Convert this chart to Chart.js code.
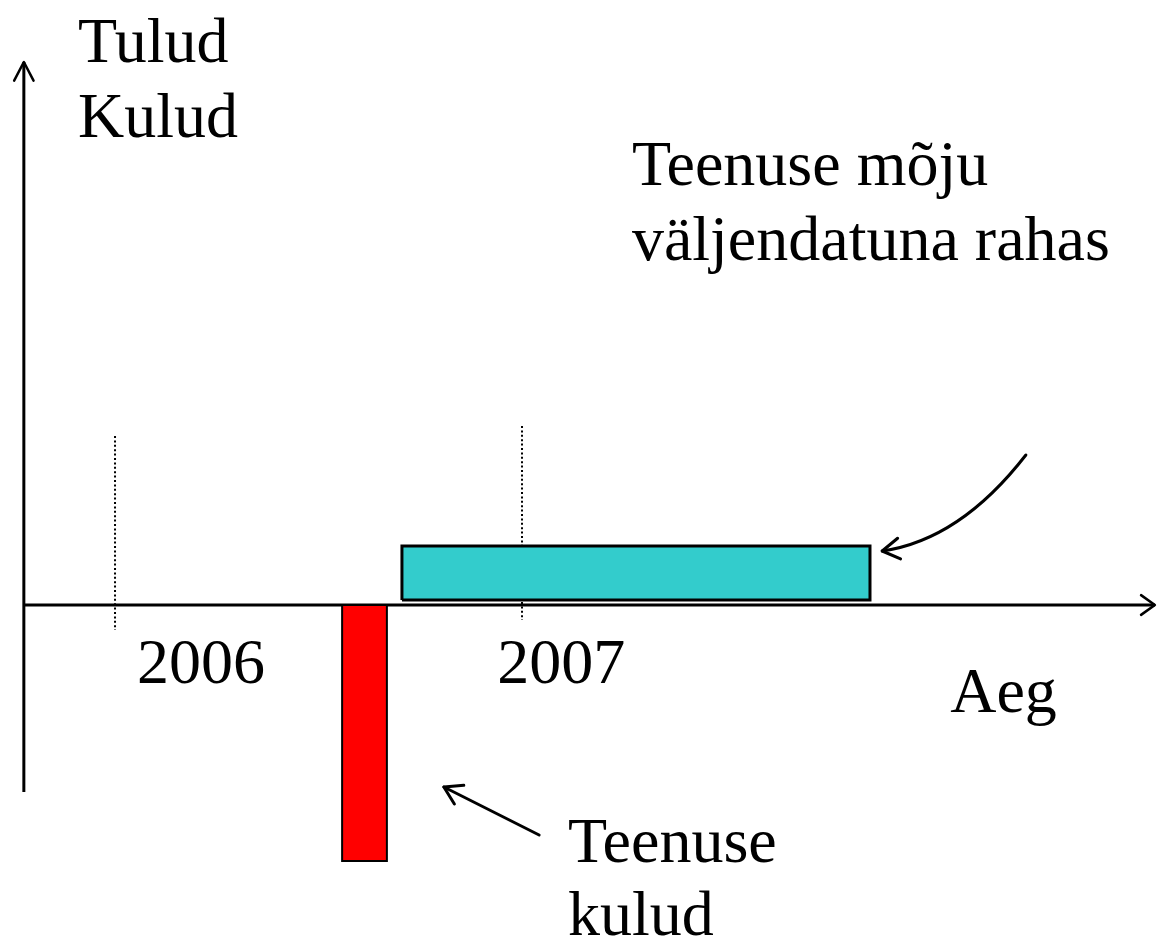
<!DOCTYPE html>
<html lang="et">
<head>
  <meta charset="UTF-8">
  <title>Teenuse mõju</title>
  <script src="https://cdn.jsdelivr.net/npm/chart.js"></script>
  <style>
    html, body {
      margin: 0;
      padding: 0;
      background: #ffffff;
    }
    .chart-box {
      width: 1157px;
      height: 938px;
      position: relative;
    }
  </style>
</head>
<body>
<div class="chart-box">
  <canvas id="impactChart"></canvas>
</div>

<script>
  // time axis in years, money axis in arbitrary units
  const yearMarks = [2006, 2007];
  const yearMarkSpan = [[16.9, -2.5], [17.9, -1.5]];
  const yearLabels = ['2006', '2007'];

  const costPeriod = [2006.558, 2006.668];
  const costValue = [0, -25.6];
  const benefitPeriod = [2006.705, 2007.855];
  const benefitValue = [0.5, 5.9];

  const timeAxis = [2005.776, 2008.555];
  const moneyAxis = [-18.7, 54.3];

  const viewX = [2005.7174, 2008.5602];
  const viewY = [-33.3, 60.5];

  const fontFamily = '"Liberation Serif", "Times New Roman", serif';

  // lower "order" is drawn on top
  function fillBlock(period, range, color) {
    return {
      data: [{ x: period[0], y: range[1] }, { x: period[1], y: range[1] }],
      fill: { value: range[0] },
      backgroundColor: color,
      borderWidth: 0,
      pointRadius: 0,
      showLine: true,
      order: 2
    };
  }

  function outlineBlock(period, range, width) {
    return {
      data: [
        { x: period[0], y: range[0] },
        { x: period[0], y: range[1] },
        { x: period[1], y: range[1] },
        { x: period[1], y: range[0] },
        { x: period[0], y: range[0] }
      ],
      borderColor: '#000000',
      borderWidth: width,
      fill: false,
      pointRadius: 0,
      showLine: true,
      order: 1
    };
  }

  const datasets = [];

  // dotted year markers
  yearMarks.forEach((yr, i) => {
    datasets.push({
      data: [{ x: yr, y: yearMarkSpan[i][0] }, { x: yr, y: yearMarkSpan[i][1] }],
      borderColor: '#000000',
      borderWidth: 2,
      borderDash: [2, 2.4],
      pointRadius: 0,
      showLine: true,
      fill: false,
      order: 5
    });
  });

  // axes
  datasets.push({
    data: [{ x: timeAxis[0], y: 0 }, { x: timeAxis[1], y: 0 }],
    borderColor: '#000000', borderWidth: 3, pointRadius: 0, showLine: true, fill: false, order: 4
  });
  datasets.push({
    data: [{ x: timeAxis[0], y: moneyAxis[0] }, { x: timeAxis[0], y: moneyAxis[1] }],
    borderColor: '#000000', borderWidth: 3, pointRadius: 0, showLine: true, fill: false, order: 4
  });

  // service cost and service benefit
  datasets.push(fillBlock(costPeriod, costValue, '#ff0000'));
  datasets.push(outlineBlock(costPeriod, costValue, 2));
  datasets.push(fillBlock(benefitPeriod, benefitValue, '#33cccc'));
  datasets.push(outlineBlock(benefitPeriod, benefitValue, 3));

  // labels and pointer arrows (in chart units)
  const labels = [
    { text: 'Tulud', x: 2005.909, y: 54.3 },
    { text: 'Kulud', x: 2005.909, y: 46.8 },
    { text: 'Teenuse mõju', x: 2007.270, y: 42.0 },
    { text: 'väljendatuna rahas', x: 2007.270, y: 34.5 },
    { text: yearLabels[0], x: 2006.054, y: -7.8 },
    { text: yearLabels[1], x: 2006.939, y: -7.8 },
    { text: 'Aeg', x: 2008.052, y: -10.7 },
    { text: 'Teenuse', x: 2007.113, y: -25.7 },
    { text: 'kulud', x: 2007.113, y: -33.0 }
  ];

  const benefitPointer = [[2008.238, 15.0], [2008.076, 6.5], [2007.885, 5.4]];
  const costPointer = [[2007.042, -23.0], [2006.808, -18.2]];

  function arrowHead(ctx, tipX, tipY, fromX, fromY, len, spread) {
    const ang = Math.atan2(tipY - fromY, tipX - fromX);
    ctx.beginPath();
    ctx.moveTo(tipX - len * Math.cos(ang - spread), tipY - len * Math.sin(ang - spread));
    ctx.lineTo(tipX, tipY);
    ctx.lineTo(tipX - len * Math.cos(ang + spread), tipY - len * Math.sin(ang + spread));
    ctx.stroke();
  }

  const decorations = {
    id: 'decorations',
    afterDatasetsDraw(chart) {
      const ctx = chart.ctx;
      const sx = chart.scales.x;
      const sy = chart.scales.y;
      const px = v => sx.getPixelForValue(v);
      const py = v => sy.getPixelForValue(v);

      ctx.save();
      ctx.strokeStyle = '#000000';
      ctx.lineCap = 'round';
      ctx.lineJoin = 'round';

      // axis arrowheads
      ctx.lineWidth = 2.5;
      arrowHead(ctx, px(timeAxis[1]), py(0), px(timeAxis[0]), py(0), 17, 0.62);
      arrowHead(ctx, px(timeAxis[0]), py(moneyAxis[1]), px(timeAxis[0]), py(moneyAxis[0]), 21, 0.48);

      // curved pointer to benefit
      ctx.lineWidth = 3;
      const b = benefitPointer.map(p => [px(p[0]), py(p[1])]);
      ctx.beginPath();
      ctx.moveTo(b[0][0], b[0][1]);
      ctx.quadraticCurveTo(b[1][0], b[1][1], b[2][0], b[2][1]);
      ctx.stroke();
      arrowHead(ctx, b[2][0], b[2][1], b[1][0], b[1][1], 20, 0.55);

      // straight pointer to cost
      const c = costPointer.map(p => [px(p[0]), py(p[1])]);
      ctx.beginPath();
      ctx.moveTo(c[0][0], c[0][1]);
      ctx.lineTo(c[1][0], c[1][1]);
      ctx.stroke();
      arrowHead(ctx, c[1][0], c[1][1], c[0][0], c[0][1], 20, 0.55);

      // texts
      ctx.fillStyle = '#000000';
      ctx.font = '64px ' + fontFamily;
      ctx.textAlign = 'left';
      ctx.textBaseline = 'alphabetic';
      labels.forEach(l => {
        ctx.fillText(l.text, px(l.x), py(l.y));
      });
      ctx.restore();
    }
  };

  new Chart(document.getElementById('impactChart'), {
    type: 'scatter',
    data: { datasets: datasets },
    options: {
      responsive: true,
      maintainAspectRatio: false,
      animation: false,
      layout: { padding: 0 },
      scales: {
        x: { type: 'linear', min: viewX[0], max: viewX[1], display: false },
        y: { type: 'linear', min: viewY[0], max: viewY[1], display: false }
      },
      plugins: {
        legend: { display: false },
        tooltip: { enabled: false }
      },
      elements: { line: { tension: 0 } }
    },
    plugins: [decorations]
  });
</script>
</body>
</html>
